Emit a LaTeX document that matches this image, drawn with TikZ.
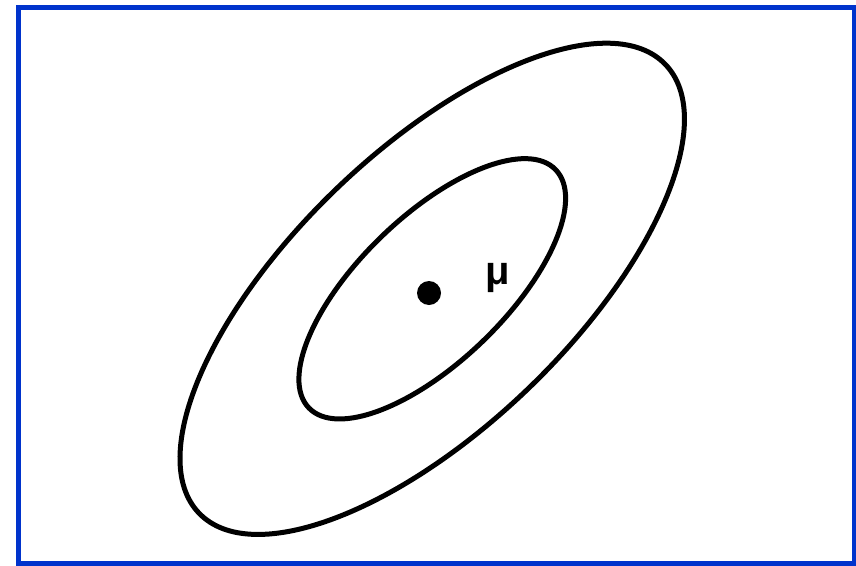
\documentclass[tikz,border=0pt]{standalone}
\usepackage{fontspec}
\setmainfont{Liberation Sans}
\usepackage{tikz}
\usetikzlibrary{positioning}
\definecolor{framblue}{HTML}{0033CC}

\begin{document}
\begin{tikzpicture}[
    x=1pt, y=-1pt,
    frame/.style={draw=framblue, line width=5pt},
    contour/.style={draw=black, line width=5pt},
    meanpt/.style={circle, fill=black, inner sep=0pt, minimum size=24pt},
    lbl/.style={font=\fontsize{40}{46}\selectfont\bfseries, inner sep=0pt}
]
    \useasboundingbox (0,0) rectangle (856,565);
    \draw[frame] (18.5,7.5) rectangle (854.5,563);
    % confidence contours
    \coordinate (ctr) at (432.25,288.8);
    \draw[contour, rotate around={43.9:(ctr)}] (ctr) ellipse [x radius=323.6pt, y radius=138.5pt];
    \draw[contour, rotate around={44.0:(ctr)}] (ctr) ellipse [x radius=171.5pt, y radius=72.8pt];
    % mean
    \node[meanpt] (mean) at (429,293) {};
    \node[lbl] (mulabel) at (498,278) {μ};
\end{tikzpicture}
\end{document}
